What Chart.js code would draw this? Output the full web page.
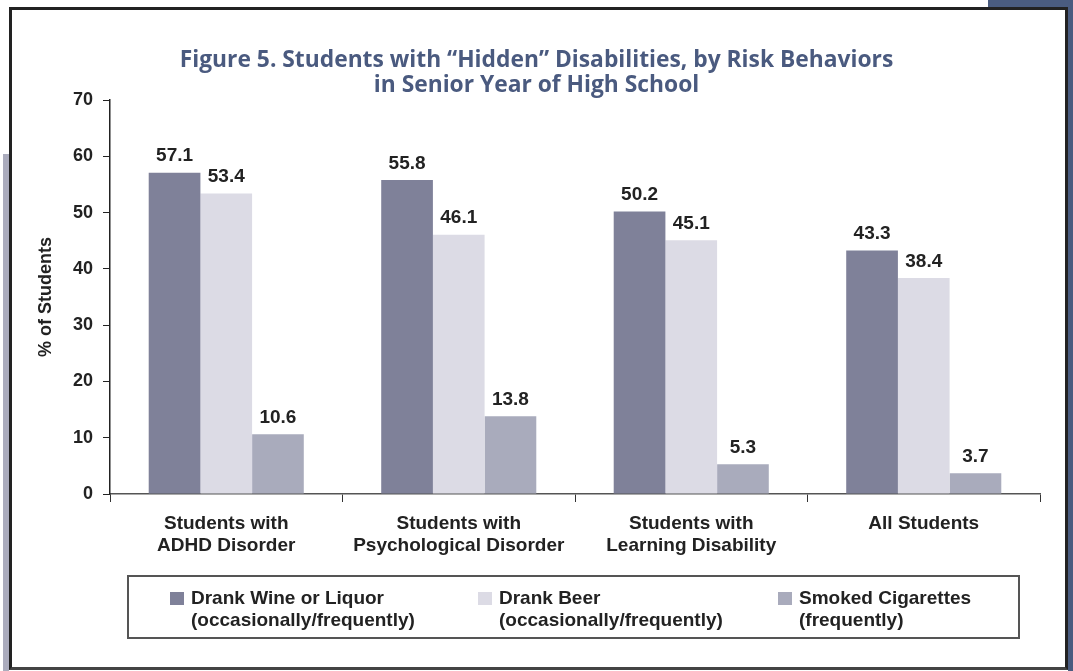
<!DOCTYPE html>
<html>
<head>
<meta charset="utf-8">
<script src="https://cdn.jsdelivr.net/npm/chart.js@4.4.1/dist/chart.umd.min.js"></script>
<style>
  html, body { margin: 0; padding: 0; background: #fff; }
  #wrap { position: relative; width: 1073px; height: 671px; overflow: hidden; background: #fff; }
  #frame { position: absolute; left: 9px; top: 7px; width: 1053px; height: 657px; border: 3px solid #222; border-bottom-color: #444; }
  #blueTop { position: absolute; left: 988px; top: 0; width: 85px; height: 8px; background: #4a5c80; }
  #blueRight { position: absolute; left: 1068px; top: 0; width: 5px; height: 671px; background: #4a5c80; }
  #greyLeft { position: absolute; left: 3px; top: 154px; width: 6px; height: 517px; background: #abacbd; }
  canvas { position: absolute; left: 0; top: 0; }
  #legend { position: absolute; left: 127px; top: 575px; width: 889px; height: 60px; border: 2px solid #555;
            font: bold 19px "Liberation Sans", Arial, sans-serif; color: #222; }
  .item { position: absolute; top: 10px; line-height: 22px; }
  .sw { position: absolute; left: -21px; top: 5px; width: 14px; height: 13px; }
</style>
</head>
<body>
<div id="wrap">
  <div id="greyLeft"></div>
  <div id="blueTop"></div>
  <div id="blueRight"></div>
  <div id="frame"></div>
  <canvas id="my-chart" width="1073" height="671"></canvas>
  <div id="legend"></div>
</div>
<script>
var categories = [['Students with', 'ADHD Disorder'], ['Students with', 'Psychological Disorder'], ['Students with', 'Learning Disability'], 'All Students'];
var wineLiquor = [57.1, 55.8, 50.2, 43.3];
var beer = [53.4, 46.1, 45.1, 38.4];
var cigarettes = [10.6, 13.8, 5.3, 3.7];
var seriesNames = [
    ['Drank Wine or Liquor', '(occasionally/frequently)'],
    ['Drank Beer', '(occasionally/frequently)'],
    ['Smoked Cigarettes', '(frequently)']
];
var seriesColors = ['#7f8199', '#dcdbe5', '#a9abbc'];
var titleLines = ['Figure 5. Students with \u201cHidden\u201d Disabilities, by Risk Behaviors', 'in Senior Year of High School'];

var bold = 'Liberation Sans, Arial, sans-serif';

// value labels above each bar
var barValues = {
    id: 'barValues',
    afterDatasetsDraw: function (chart) {
        var ctx = chart.ctx;
        ctx.save();
        ctx.font = 'bold 19px ' + bold;
        ctx.fillStyle = '#222';
        ctx.textAlign = 'center';
        ctx.textBaseline = 'bottom';
        chart.data.datasets.forEach(function (ds, i) {
            chart.getDatasetMeta(i).data.forEach(function (bar, j) {
                ctx.fillText(ds.data[j].toFixed(1), bar.x, bar.y - 7);
            });
        });
        ctx.restore();
    }
};

var ctx = document.getElementById('my-chart').getContext('2d');
var chart = new Chart(ctx, {
    type: 'bar',
    data: {
        labels: categories,
        datasets: [
            { label: seriesNames[0].join(' '), data: wineLiquor, backgroundColor: seriesColors[0] },
            { label: seriesNames[1].join(' '), data: beer, backgroundColor: seriesColors[1] },
            { label: seriesNames[2].join(' '), data: cigarettes, backgroundColor: seriesColors[2] }
        ]
    },
    options: {
        responsive: false,
        animation: false,
        layout: { padding: 0 },
        datasets: { bar: { categoryPercentage: 0.667, barPercentage: 1.0 } },
        plugins: {
            legend: { display: false },
            tooltip: { enabled: false },
            title: {
                display: true,
                text: titleLines,
                color: '#4a5a7f',
                font: { family: 'Open Sans', size: 22.8, weight: 'bold', lineHeight: 1.1 },
                padding: { top: 48, bottom: 2 }
            }
        },
        scales: {
            x: {
                grid: { drawOnChartArea: false, offset: true, tickLength: 8, color: '#333' },
                border: { color: '#555', width: 1.5 },
                ticks: { color: '#222', padding: 11, font: { family: bold, size: 19, weight: 'bold', lineHeight: 1.15 }, maxRotation: 0 },
                afterFit: function (s) { s.height = 177; }
            },
            y: {
                min: 0, max: 70,
                ticks: { stepSize: 10, color: '#222', padding: 10, font: { family: bold, size: 18, weight: 'bold' } },
                grid: { drawOnChartArea: false, tickLength: 7, color: '#222' },
                border: { color: '#222', width: 1.5 },
                title: { display: true, text: '% of Students', color: '#222', padding: { top: 35, bottom: 0 },
                         font: { family: bold, size: 18, weight: 'bold' } },
                afterFit: function (s) { s.width = 110; }
            },
            // empty right-hand margin so the title stays centred on the page
            yRight: {
                position: 'right', min: 0, max: 70,
                grid: { display: false }, ticks: { display: false }, border: { display: false },
                afterFit: function (s) { s.width = 33; }
            }
        }
    },
    plugins: [barValues]
});

// legend box built from the datasets
var legend = document.getElementById('legend');
var itemLeft = [62, 370, 670];
chart.data.datasets.forEach(function (ds, i) {
    var item = document.createElement('div');
    item.className = 'item';
    item.style.left = itemLeft[i] + 'px';
    var sw = document.createElement('div');
    sw.className = 'sw';
    sw.style.background = ds.backgroundColor;
    item.appendChild(sw);
    seriesNames[i].forEach(function (line) {
        var d = document.createElement('div');
        d.textContent = line;
        item.appendChild(d);
    });
    legend.appendChild(item);
});
</script>
</body>
</html>
